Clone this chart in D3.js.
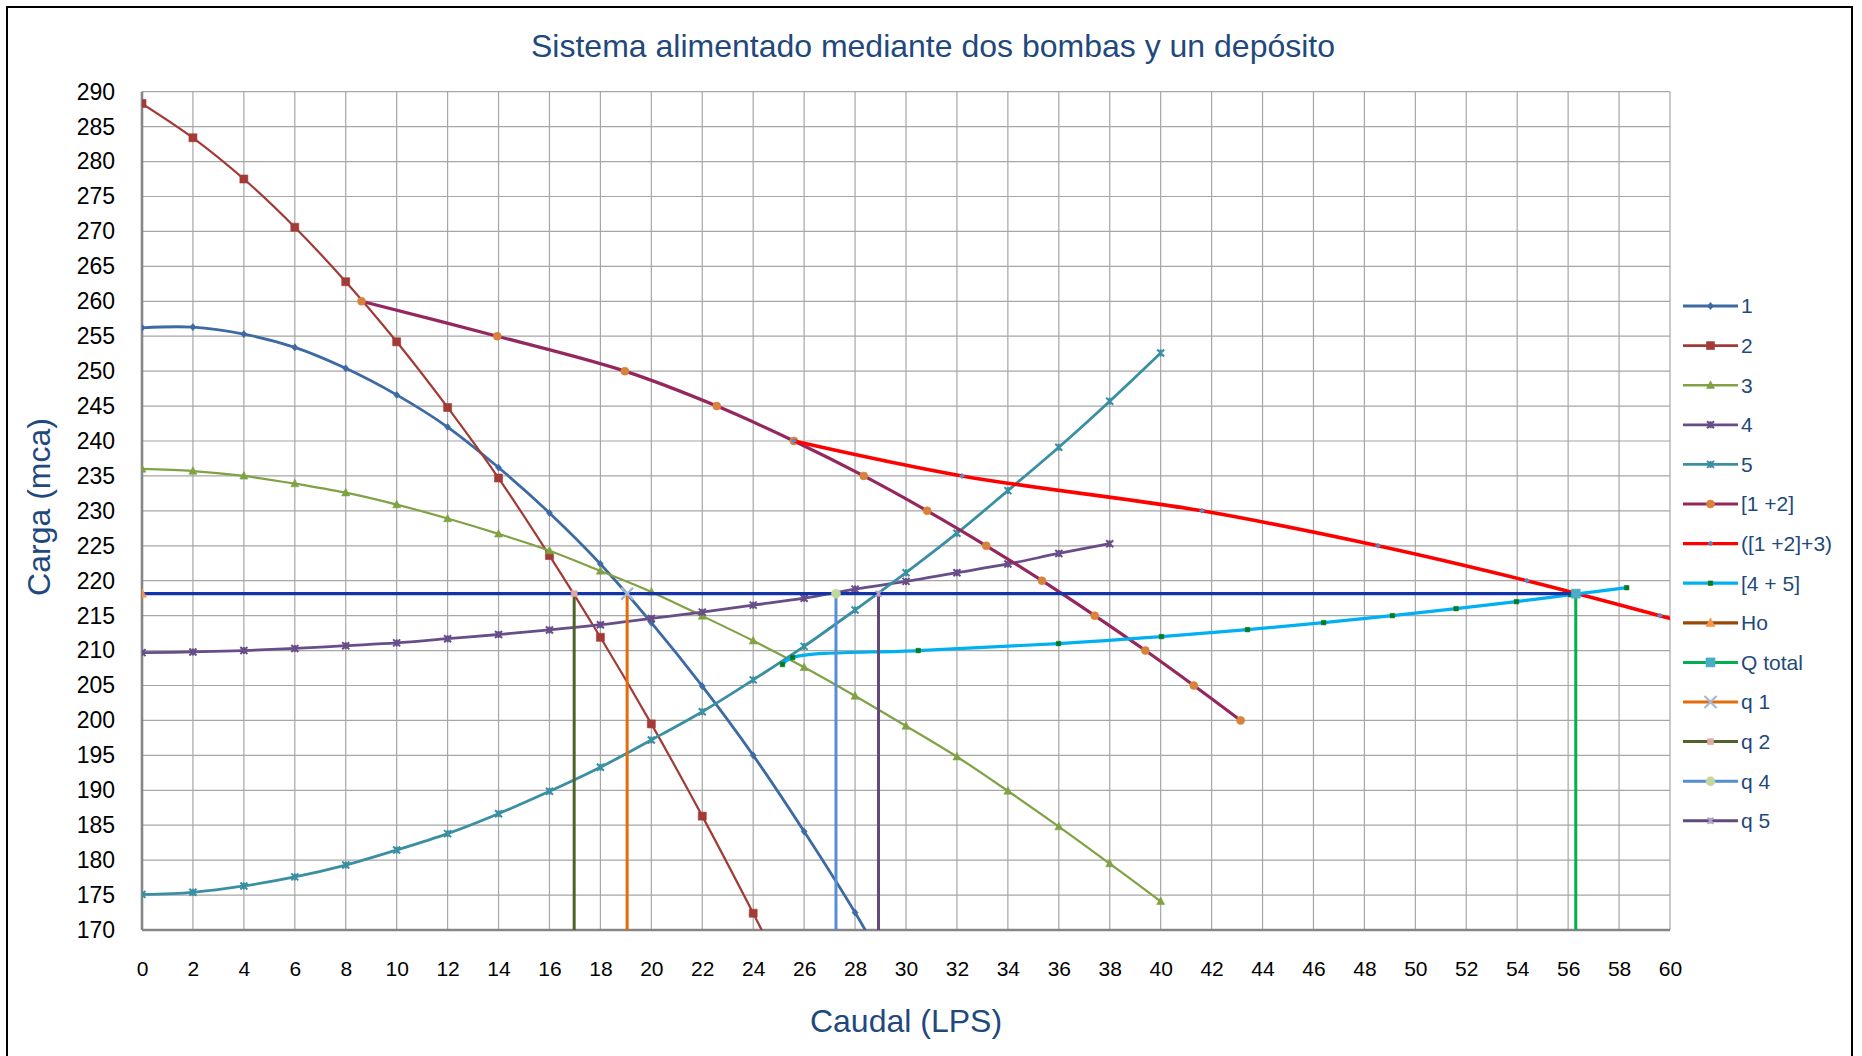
<!DOCTYPE html>
<html>
<head>
<meta charset="utf-8">
<script src="https://cdn.jsdelivr.net/npm/d3@7"></script>
<style>
  body { margin: 0; background: #fff; }
  text { font-family: "Liberation Sans", Arial, sans-serif; }
</style>
</head>
<body>
<svg id="chart" width="1862" height="1056"></svg>
<script>
// caudal (LPS) / carga (mca)
var q1 = [0, 2, 4, 6, 8, 10, 12, 14, 16, 18, 20, 22, 24, 26, 28, 30]
var h1 = [256.2, 256.3, 255.3, 253.4, 250.4, 246.6, 242.0, 236.2, 229.7, 222.4, 214.0, 204.9, 195.0, 184.1, 172.5, 159.6]

var q2 = [0, 2, 4, 6, 8, 10, 12, 14, 16, 18, 20, 22, 24, 26]
var h2 = [288.3, 283.4, 277.5, 270.6, 262.8, 254.2, 244.8, 234.7, 223.6, 211.9, 199.5, 186.3, 172.4, 158.0]

var q3 = [0, 2, 4, 6, 8, 10, 12, 14, 16, 18, 20, 22, 24, 26, 28, 30, 32, 34, 36, 38, 40]
var h3 = [236.0, 235.7, 235.0, 233.9, 232.6, 230.9, 228.9, 226.7, 224.3, 221.4, 218.4, 214.95, 211.4, 207.6, 203.5, 199.2, 194.8, 189.9, 184.8, 179.5, 174.1]

var q4 = [0, 2, 4, 6, 8, 10, 12, 14, 16, 18, 20, 22, 24, 26, 28, 30, 32, 34, 36, 38]
var h4 = [209.7, 209.8, 210.0, 210.3, 210.7, 211.1, 211.7, 212.3, 212.95, 213.7, 214.6, 215.5, 216.5, 217.5, 218.8, 219.9, 221.15, 222.4, 223.9, 225.3]

var q5 = [0, 2, 4, 6, 8, 10, 12, 14, 16, 18, 20, 22, 24, 26, 28, 30, 32, 34, 36, 38, 40]
var h5 = [175.1, 175.4, 176.3, 177.6, 179.3, 181.45, 183.8, 186.65, 189.85, 193.3, 197.2, 201.25, 205.8, 210.6, 215.8, 221.15, 226.8, 232.9, 239.1, 245.7, 252.6]

var q12 = [8.62, 13.95, 18.96, 22.57, 25.6, 28.34, 30.83, 33.15, 35.34, 37.41, 39.4, 41.3, 43.14]
var h12 = [260, 255, 250, 245, 240, 235, 230, 225, 220, 215, 210, 205, 200]

var q123 = [25.6, 32.2, 41.62, 48.53, 54.38, 59.6, 64.6]
var h123 = [240, 235, 230, 225, 220, 215, 210]

var q45 = [25.15, 25.55, 30.48, 35.99, 40.03, 43.41, 46.4, 49.1, 51.6, 53.97, 56.1, 58.3]
var h45 = [208, 209, 210, 211, 212, 213, 214, 215, 216, 217, 218, 219]

var Ho = 218.15
var Qtotal = 56.3
var qOper = [19.05, 16.97, 27.25, 28.92]   // q 1, q 2, q 4, q 5

var xTicks = [0, 2, 4, 6, 8, 10, 12, 14, 16, 18, 20, 22, 24, 26, 28, 30, 32, 34, 36, 38, 40, 42, 44, 46, 48, 50, 52, 54, 56, 58, 60]
var yTicks = [170, 175, 180, 185, 190, 195, 200, 205, 210, 215, 220, 225, 230, 235, 240, 245, 250, 255, 260, 265, 270, 275, 280, 285, 290]

var pts = function (xs, ys) { return xs.map(function (d, i) { return [d, ys[i]] }) }

var series = [
  {name: "1", data: pts(q1, h1), color: "#3d6aa4", width: 2.8, marker: "diamond", mSize: 6, mFill: "#3d6aa4"},
  {name: "2", data: pts(q2, h2), color: "#a23b36", width: 2.2, marker: "square", mSize: 8, mFill: "#a23b36"},
  {name: "3", data: pts(q3, h3), color: "#80a244", width: 2.2, marker: "triangle", mSize: 8, mFill: "#80a244"},
  {name: "4", data: pts(q4, h4), color: "#684e89", width: 2.8, marker: "star", mSize: 7, mFill: "#684e89"},
  {name: "5", data: pts(q5, h5), color: "#3a8fa3", width: 2.8, marker: "star", mSize: 7, mFill: "#3a8fa3"},
  {name: "[1 +2]", data: pts(q12, h12), color: "#94285e", width: 3.2, marker: "circle", mSize: 8, mFill: "#d8823b"},
  {name: "([1 +2]+3)", data: pts(q123, h123), color: "#ff0000", width: 3.6, marker: "plus", mSize: 5, mFill: "#5a8ac6"},
  {name: "[4 + 5]", data: pts(q45, h45), color: "#00b0f0", width: 3.2, marker: "square", mSize: 4.5, mFill: "#007a1e"},
  {name: "Ho", data: [[0, Ho], [Qtotal, Ho]], color: "#1533a8", legendColor: "#984807", width: 3.4, marker: "triangle", mSize: 9, mFill: "#f79646", only: 0},
  {name: "Q total", data: [[Qtotal, Ho], [Qtotal, 170]], color: "#00b050", width: 3, marker: "square", mSize: 9, mFill: "#4bacc6", only: 0},
  {name: "q 1", data: [[qOper[0], Ho], [qOper[0], 170]], color: "#e46c0a", width: 3, marker: "x", mSize: 12, mFill: "#a5b8d6", only: 0},
  {name: "q 2", data: [[qOper[1], Ho], [qOper[1], 170]], color: "#4f6228", width: 3, marker: "square", mSize: 6, mFill: "#e0a9a7", only: 0},
  {name: "q 4", data: [[qOper[2], Ho], [qOper[2], 170]], color: "#558ed5", width: 3, marker: "circle", mSize: 9, mFill: "#c3d69b", only: 0},
  {name: "q 5", data: [[qOper[3], Ho], [qOper[3], 170]], color: "#604a7b", width: 3, marker: "star", mSize: 6, mFill: "#b3a2c7", only: 0}
]

var svg = d3.select("#chart")
var x = d3.scaleLinear().domain([0, 60]).range([142, 1670])
var y = d3.scaleLinear().domain([170, 290]).range([930, 91.7])

svg.append("rect").attr("x", 7).attr("y", 7).attr("width", 1845).attr("height", 1070)
  .attr("fill", "#fff").attr("stroke", "#000").attr("stroke-width", 2)

// grid
svg.append("g").selectAll("line").data(xTicks).join("line")
  .attr("x1", function (d) { return x(d) }).attr("x2", function (d) { return x(d) })
  .attr("y1", y(170)).attr("y2", y(290))
  .attr("stroke", "#a6a6a6").attr("stroke-width", 1.2)
svg.append("g").selectAll("line").data(yTicks).join("line")
  .attr("x1", x(0)).attr("x2", x(60))
  .attr("y1", function (d) { return y(d) }).attr("y2", function (d) { return y(d) })
  .attr("stroke", "#a6a6a6").attr("stroke-width", 1.2)

// axes
var xAxis = d3.axisBottom(x).tickValues(xTicks).tickSize(0).tickPadding(31)
var yAxis = d3.axisLeft(y).tickValues(yTicks).tickSize(0).tickPadding(27)

var gx = svg.append("g").attr("transform", "translate(0," + y(170) + ")").call(xAxis)
var gy = svg.append("g").attr("transform", "translate(" + x(0) + ",0)").call(yAxis)
gx.select(".domain").remove()
gy.select(".domain").remove()
gx.selectAll("text").attr("font-size", 21).attr("fill", "#000").attr("font-family", "Liberation Sans, Arial, sans-serif")
gy.selectAll("text").attr("font-size", 23).attr("fill", "#000").attr("font-family", "Liberation Sans, Arial, sans-serif")

svg.append("line").attr("x1", x(0)).attr("x2", x(60)).attr("y1", y(170)).attr("y2", y(170))
  .attr("stroke", "#868686").attr("stroke-width", 2.6)
svg.append("line").attr("x1", x(0)).attr("x2", x(0)).attr("y1", y(170)).attr("y2", y(290))
  .attr("stroke", "#868686").attr("stroke-width", 2.6)

// clip to plot area
svg.append("clipPath").attr("id", "plot").append("rect")
  .attr("x", x(0)).attr("y", y(290) - 6).attr("width", x(60) - x(0)).attr("height", y(170) - y(290) + 6)

function markerPath(type, s) {
  var h = s / 2
  if (type == "diamond") return "M0," + (-h * 1.2) + "L" + h + ",0L0," + (h * 1.2) + "L" + (-h) + ",0Z"
  if (type == "square") return "M" + (-h) + "," + (-h) + "h" + s + "v" + s + "h" + (-s) + "Z"
  if (type == "triangle") return "M0," + (-h * 1.1) + "L" + h + "," + (h * 0.8) + "L" + (-h) + "," + (h * 0.8) + "Z"
  if (type == "circle") return d3.arc()({innerRadius: 0, outerRadius: h, startAngle: 0, endAngle: 2 * Math.PI})
  if (type == "star") return "M" + (-h) + "," + (-h) + "L" + h + "," + h + "M" + h + "," + (-h) + "L" + (-h) + "," + h + "M0," + (-h) + "L0," + h
  if (type == "x") return "M" + (-h) + "," + (-h) + "L" + h + "," + h + "M" + h + "," + (-h) + "L" + (-h) + "," + h
  if (type == "plus") return "M" + (-h) + ",0L" + h + ",0M0," + (-h) + "L0," + h
}
var stroked = {star: 1, x: 1, plus: 1}

function drawMarker(g, s, px, py) {
  var p = g.append("path").attr("d", markerPath(s.marker, s.mSize))
    .attr("transform", "translate(" + px + "," + py + ")")
  if (stroked[s.marker]) p.attr("fill", "none").attr("stroke", s.mFill).attr("stroke-width", s.marker == "x" ? 2.2 : 2)
  else p.attr("fill", s.mFill).attr("stroke", s.mFill).attr("stroke-width", 0.6)
}

var line = d3.line()
  .x(function (d) { return x(d[0]) })
  .y(function (d) { return y(d[1]) })
  .curve(d3.curveCatmullRom.alpha(0.5))

var plot = svg.append("g").attr("clip-path", "url(#plot)")
series.forEach(function (s) {
  var g = plot.append("g")
  g.append("path").datum(s.data).attr("d", line)
    .attr("fill", "none").attr("stroke", s.color).attr("stroke-width", s.width)
  s.data.forEach(function (d, i) {
    if (s.only !== undefined && i != s.only) return
    if (d[0] > 60 || d[1] < 170) return
    drawMarker(g, s, x(d[0]), y(d[1]))
  })
})

// legend
var legend = svg.append("g")
series.forEach(function (s, i) {
  var ly = 306 + i * 39.6
  legend.append("line").attr("x1", 1683).attr("x2", 1738).attr("y1", ly).attr("y2", ly)
    .attr("stroke", s.legendColor || s.color).attr("stroke-width", s.width > 3 ? 3.2 : Math.max(s.width, 2.6))
  drawMarker(legend, s, 1710.5, ly)
  legend.append("text").attr("x", 1741).attr("y", ly).attr("dy", "0.35em")
    .attr("font-size", 21).attr("fill", "#1f497d").text(s.name)
})

// titles
svg.append("text").attr("x", 933).attr("y", 57).attr("text-anchor", "middle")
  .attr("font-size", 32).attr("fill", "#1f497d")
  .text("Sistema alimentado mediante dos bombas y un depósito")
svg.append("text").attr("x", 906).attr("y", 1032).attr("text-anchor", "middle")
  .attr("font-size", 32).attr("fill", "#1f497d").text("Caudal (LPS)")
svg.append("text").attr("transform", "translate(50,507) rotate(-90)").attr("text-anchor", "middle")
  .attr("font-size", 32).attr("fill", "#1f497d").text("Carga (mca)")
</script>
</body>
</html>
